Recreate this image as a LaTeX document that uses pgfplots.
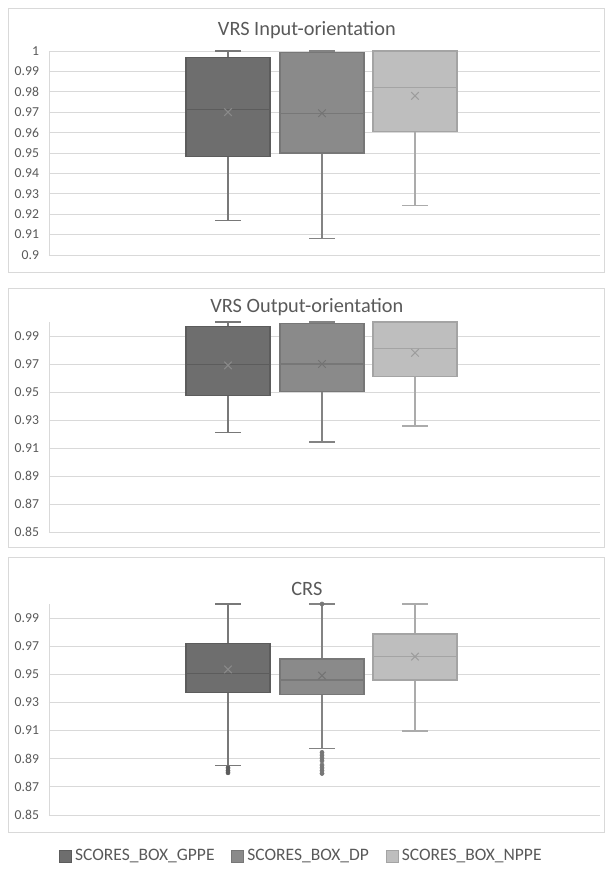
\documentclass[border=0pt]{standalone}
\usepackage{pgfplots}
\pgfplotsset{compat=1.18}
\usepackage{fontspec}
\setmainfont{Carlito}
\definecolor{gA}{HTML}{6E6E6E}
\definecolor{gAd}{HTML}{5C5C5C}
\definecolor{gAw}{HTML}{787878}
\definecolor{gB}{HTML}{8A8A8A}
\definecolor{gBd}{HTML}{777777}
\definecolor{gBw}{HTML}{838383}
\definecolor{gC}{HTML}{BEBEBE}
\definecolor{gCd}{HTML}{A4A4A4}
\definecolor{gCw}{HTML}{ABABAB}
\definecolor{mA}{HTML}{8A8A8A}
\definecolor{mB}{HTML}{737373}
\definecolor{mC}{HTML}{9C9C9C}
\definecolor{gridc}{HTML}{D9D9D9}
\definecolor{txt}{HTML}{595959}
\pgfplotsset{
  panel/.style={
    scale only axis, width=330.6pt, xmin=0, xmax=551,
    axis x line=none, axis y line*=left,
    y axis line style={draw=gridc, line width=0.5pt},
    ymajorgrids, grid style={draw=gridc, line width=0.5pt},
    major tick length=0pt,
    yticklabel style={font=\fontsize{8.2}{9}\selectfont, text=txt, xshift=-2.5pt},
    /pgf/number format/.cd, fixed, precision=2, assume math mode=true, /pgfplots/.cd,
    title style={font=\fontsize{12.2}{14}\selectfont, text=txt, at={(0.468,1)}, anchor=center},
    clip=false,
  },
  wA/.style={draw=gAw, line width=0.8pt, mark=none, forget plot},
  wB/.style={draw=gBw, line width=0.8pt, mark=none, forget plot},
  wC/.style={draw=gCw, line width=0.8pt, mark=none, forget plot},
  lA/.style={draw=gAd, line width=0.65pt, mark=none, forget plot},
  lB/.style={draw=gBd, line width=0.65pt, mark=none, forget plot},
  lC/.style={draw=gCd, line width=0.65pt, mark=none, forget plot},
  fA/.style={lA, fill=gA},
  fB/.style={lB, fill=gB},
  fC/.style={lC, fill=gC},
  mn/.style={only marks, mark=x, mark size=3.2pt, mark options={line width=0.6pt}, forget plot},
  ol/.style={only marks, mark=*, mark size=1.2pt, forget plot},
}
\begin{document}
\begin{tikzpicture}
\useasboundingbox (0,0) rectangle (363pt,530.4pt);
\draw[gridc, line width=0.5pt] (4.8pt,525.6pt) rectangle (362.4pt,367.2pt);
\draw[gridc, line width=0.5pt] (4.8pt,357.6pt) rectangle (362.4pt,202.2pt);
\draw[gridc, line width=0.5pt] (4.8pt,196.2pt) rectangle (362.4pt,31.2pt);

% ---------------- Panel 1: VRS Input-orientation
\begin{axis}[panel, at={(29.4pt,377.4pt)}, anchor=south west, height=122.4pt,
  ymin=0.9, ymax=1, ytick={0.9,0.91,0.92,0.93,0.94,0.95,0.96,0.97,0.98,0.99,1},
  title={VRS Input-orientation}, title style={yshift=6.6pt}]
% GPPE: lw 0.917, q1 0.9484, med 0.9715, q3 0.997, uw 1.0
\addplot[wA] coordinates {(179,0.917) (179,0.9484)};
\addplot[wA] coordinates {(179,0.997) (179,1.0)};
\addplot[wA] coordinates {(166,0.917) (192,0.917)};
\addplot[wA] coordinates {(166,1.0) (192,1.0)};
\addplot[fA] coordinates {(137,0.9484) (221,0.9484) (221,0.997) (137,0.997)} -- cycle;
\addplot[lA] coordinates {(137,0.9715) (221,0.9715)};
% DP: lw 0.908, q1 0.950, med 0.9695, q3 0.9993, uw 1.0
\addplot[wB] coordinates {(273,0.908) (273,0.950)};
\addplot[wB] coordinates {(273,0.9993) (273,1.0)};
\addplot[wB] coordinates {(260,0.908) (286,0.908)};
\addplot[wB] coordinates {(260,1.0) (286,1.0)};
\addplot[fB] coordinates {(231,0.950) (315,0.950) (315,0.9993) (231,0.9993)} -- cycle;
\addplot[lB] coordinates {(231,0.9695) (315,0.9695)};
% NPPE: lw 0.9242, q1 0.9605, med 0.982, q3 1.0, uw 1.0
\addplot[wC] coordinates {(366,0.9242) (366,0.9605)};
\addplot[wC] coordinates {(353,0.9242) (379,0.9242)};
\addplot[fC] coordinates {(324,0.9605) (408,0.9605) (408,1.0) (324,1.0)} -- cycle;
\addplot[lC] coordinates {(324,0.982) (408,0.982)};
% means
\addplot[mn, color=mA] coordinates {(179,0.970)};
\addplot[mn, color=mB] coordinates {(273,0.9695)};
\addplot[mn, color=mC] coordinates {(366,0.978)};
\end{axis}

% ---------------- Panel 2: VRS Output-orientation
\begin{axis}[panel, at={(29.4pt,211.2pt)}, anchor=south west, height=126pt,
  ymin=0.85, ymax=1, ytick={0.85,0.87,0.89,0.91,0.93,0.95,0.97,0.99},
  title={VRS Output-orientation}, title style={yshift=3pt}]
% GPPE: 0.9213, 0.9472, 0.9699, 0.9967, 1.0
\addplot[wA] coordinates {(179,0.9213) (179,0.9472)};
\addplot[wA] coordinates {(179,0.9967) (179,1.0)};
\addplot[wA] coordinates {(166,0.9213) (192,0.9213)};
\addplot[wA] coordinates {(166,1.0) (192,1.0)};
\addplot[fA] coordinates {(137,0.9472) (221,0.9472) (221,0.9967) (137,0.9967)} -- cycle;
\addplot[lA] coordinates {(137,0.9699) (221,0.9699)};
% DP: 0.9142, 0.9505, 0.970, 0.9991, 1.0
\addplot[wB] coordinates {(273,0.9142) (273,0.9505)};
\addplot[wB] coordinates {(273,0.9991) (273,1.0)};
\addplot[wB] coordinates {(260,0.9142) (286,0.9142)};
\addplot[wB] coordinates {(260,1.0) (286,1.0)};
\addplot[fB] coordinates {(231,0.9505) (315,0.9505) (315,0.9991) (231,0.9991)} -- cycle;
\addplot[lB] coordinates {(231,0.970) (315,0.970)};
% NPPE: 0.9256, 0.961, 0.9811, 1.0, 1.0
\addplot[wC] coordinates {(366,0.9256) (366,0.961)};
\addplot[wC] coordinates {(353,0.9256) (379,0.9256)};
\addplot[fC] coordinates {(324,0.961) (408,0.961) (408,1.0) (324,1.0)} -- cycle;
\addplot[lC] coordinates {(324,0.9811) (408,0.9811)};
% means
\addplot[mn, color=mA] coordinates {(179,0.969)};
\addplot[mn, color=mB] coordinates {(273,0.970)};
\addplot[mn, color=mC] coordinates {(366,0.978)};
\end{axis}

% ---------------- Panel 3: CRS
\begin{axis}[panel, at={(29.4pt,41.4pt)}, anchor=south west, height=126.6pt,
  ymin=0.85, ymax=1, ytick={0.85,0.87,0.89,0.91,0.93,0.95,0.97,0.99},
  title={CRS}, title style={yshift=3pt},
  legend style={at={(0.459,-0.194)}, anchor=center, draw=none, fill=none,
    legend columns=3, font=\fontsize{10.5}{12}\selectfont, text=txt,
    /tikz/every even column/.append style={column sep=8pt}},
  legend cell align=left]
\addlegendimage{legend image code/.code={\draw[fill=gA,draw=gAd,line width=0.5pt] (0pt,-3.6pt) rectangle (7.2pt,3.6pt);}}
\addlegendentry{SCORES\_BOX\_GPPE}
\addlegendimage{legend image code/.code={\draw[fill=gB,draw=gBd,line width=0.5pt] (0pt,-3.6pt) rectangle (7.2pt,3.6pt);}}
\addlegendentry{SCORES\_BOX\_DP}
\addlegendimage{legend image code/.code={\draw[fill=gC,draw=gCd,line width=0.5pt] (0pt,-3.6pt) rectangle (7.2pt,3.6pt);}}
\addlegendentry{SCORES\_BOX\_NPPE}
% GPPE: 0.8854, 0.9374, 0.9503, 0.9722, 1.0
\addplot[wA] coordinates {(179,0.8854) (179,0.9374)};
\addplot[wA] coordinates {(179,0.9722) (179,1.0)};
\addplot[wA] coordinates {(166,0.8854) (192,0.8854)};
\addplot[wA] coordinates {(166,1.0) (192,1.0)};
\addplot[fA] coordinates {(137,0.9374) (221,0.9374) (221,0.9722) (137,0.9722)} -- cycle;
\addplot[lA] coordinates {(137,0.9503) (221,0.9503)};
\addplot[ol, color=gAd] coordinates {(179,0.8835) (179,0.8815) (179,0.8800)};
% DP: 0.8975, 0.9357, 0.946, 0.9609, 1.0
\addplot[wB] coordinates {(273,0.8975) (273,0.9357)};
\addplot[wB] coordinates {(273,0.9609) (273,1.0)};
\addplot[wB] coordinates {(260,0.8975) (286,0.8975)};
\addplot[wB] coordinates {(260,1.0) (286,1.0)};
\addplot[fB] coordinates {(231,0.9357) (315,0.9357) (315,0.9609) (231,0.9609)} -- cycle;
\addplot[lB] coordinates {(231,0.946) (315,0.946)};
\addplot[ol, color=gBd] coordinates {(273,1.0) (273,0.8945) (273,0.8925) (273,0.8905) (273,0.8885) (273,0.8855) (273,0.8835) (273,0.8815) (273,0.8795)};
% NPPE: 0.9097, 0.946, 0.9626, 0.9787, 1.0
\addplot[wC] coordinates {(366,0.9097) (366,0.946)};
\addplot[wC] coordinates {(366,0.9787) (366,1.0)};
\addplot[wC] coordinates {(353,0.9097) (379,0.9097)};
\addplot[wC] coordinates {(353,1.0) (379,1.0)};
\addplot[fC] coordinates {(324,0.946) (408,0.946) (408,0.9787) (324,0.9787)} -- cycle;
\addplot[lC] coordinates {(324,0.9626) (408,0.9626)};
% means
\addplot[mn, color=mA] coordinates {(179,0.9535)};
\addplot[mn, color=mB] coordinates {(273,0.9491)};
\addplot[mn, color=mC] coordinates {(366,0.9626)};
\end{axis}
\end{tikzpicture}
\end{document}
